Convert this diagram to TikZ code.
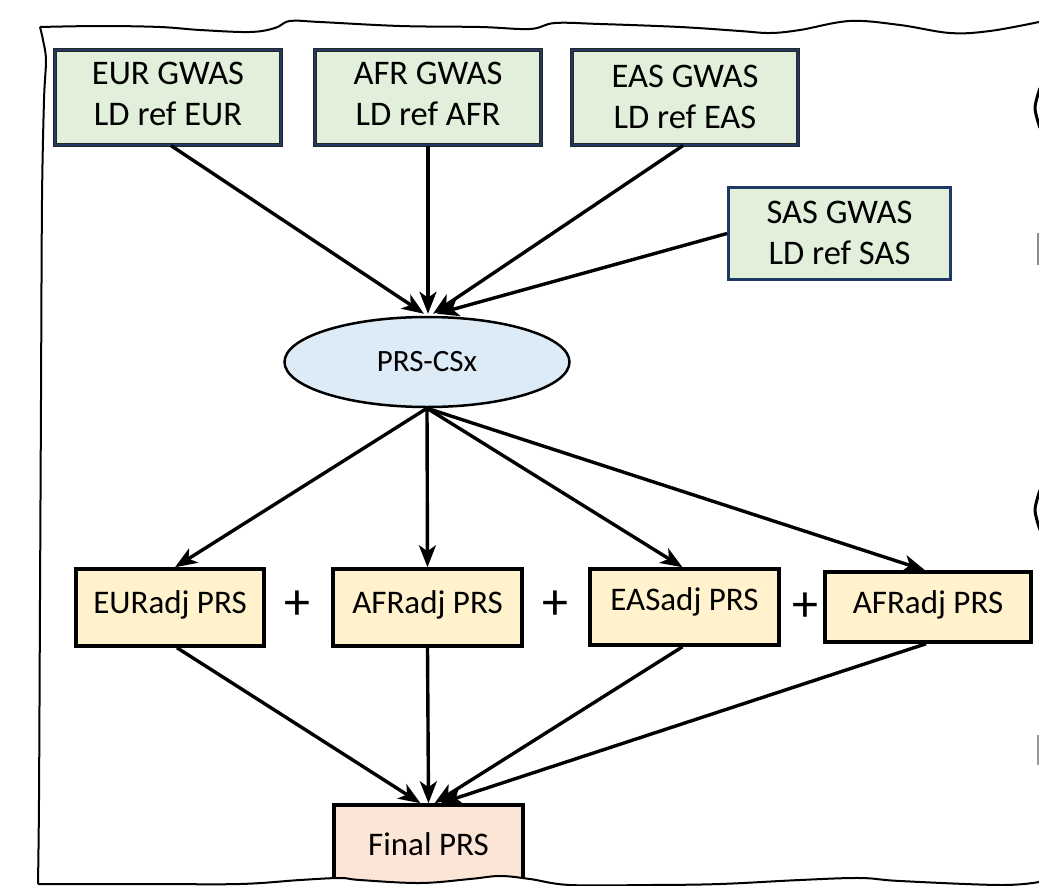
\documentclass[tikz,border=0pt]{standalone}
\usepackage{fontspec}
\setmainfont{Carlito}
\usetikzlibrary{arrows.meta,shapes.geometric,calc}
\definecolor{gfill}{HTML}{E2EFDA}
\definecolor{bfill}{HTML}{DDEBF7}
\definecolor{yfill}{HTML}{FFF2CC}
\definecolor{sfill}{HTML}{FBE5D6}
\definecolor{navy}{HTML}{1F3864}
\begin{document}
\begin{tikzpicture}[x=1pt,y=-1pt,
  txt/.style={font=\fontsize{33}{41}\selectfont, align=center, text=black},
  txtbig/.style={font=\fontsize{34.5}{41}\selectfont, align=center, text=black},
  gwas/.style={rectangle, fill=gfill, draw=black!85, double=navy, double distance=1.8pt, line width=1.2pt, inner sep=0pt},
  gwassas/.style={rectangle, fill=gfill, draw=navy, line width=3pt, inner sep=0pt},
  adj/.style={rectangle, fill=yfill, draw=black, line width=3.5pt, inner sep=0pt},
  fin/.style={rectangle, fill=sfill, draw=black, line width=3.5pt, inner sep=0pt},
  conn/.style={line width=3.4pt, -{Stealth[length=22pt,width=17pt,inset=6pt]}},
  plus/.style={font=\fontsize{52}{52}\selectfont}
]
\useasboundingbox (0,0) rectangle (1039,886);
\fill[white] (0,0) rectangle (1039,886);

% top GWAS boxes
\node[gwas, minimum width=226pt, minimum height=95pt] (eur) at (168,97.5) {};
\node[txtbig] (eurt) at ([yshift=4pt]eur.center) {EUR GWAS\\LD ref EUR};
\node[gwas, minimum width=226pt, minimum height=95pt] (afr) at (428,97.5) {};
\node[txtbig] (afrt) at ([yshift=4pt]afr.center) {AFR GWAS\\LD ref AFR};
\node[gwas, minimum width=226pt, minimum height=95pt] (eas) at (685,97.5) {};
\node[txtbig] (east) at ([yshift=1pt]eas.center) {EAS GWAS\\LD ref EAS};
\node[gwassas, minimum width=222pt, minimum height=92pt] (sas) at (839.5,233.5) {};
\node[txtbig] (sast) at ([yshift=1pt]sas.center) {SAS GWAS\\LD ref SAS};

% PRS-CSx ellipse
\node[ellipse, fill=bfill, draw=black, line width=2.5pt, minimum width=285pt, minimum height=90pt, inner sep=0pt, font=\fontsize{31}{34}\selectfont] (prs) at (427,362) {PRS-CSx};

% adjusted PRS boxes
\node[adj, minimum width=188pt, minimum height=77pt] (eadj) at (170,607.5) {};
\node[txt] (eadjt) at ([yshift=3pt]eadj.center) {EURadj PRS};
\node[adj, minimum width=189pt, minimum height=77pt] (aadj) at (427.5,607.5) {};
\node[txt] (aadjt) at ([yshift=3pt]aadj.center) {AFRadj PRS};
\node[adj, minimum width=189pt, minimum height=76pt] (sadj) at (684.5,607) {};
\node[txt] (sadjt) at ([yshift=5pt]sadj.center) {EASadj PRS};
\node[adj, minimum width=206pt, minimum height=70pt] (a2adj) at (928,607) {};
\node[txt] (a2adjt) at ([yshift=2pt]a2adj.center) {AFRadj PRS};

\node[plus] (p1) at (297,605) {+};
\node[plus] (p2) at (555,605) {+};
\node[plus] (p3) at (805,607) {+};

% final box
\node[fin, minimum width=189pt, minimum height=86pt] (final) at (428.5,848) {};
\node[txt] (finaltxt) at (428.5,844) {Final PRS};

% connectors: GWAS -> PRS-CSx
\draw[conn] ([xshift=3pt]eur.south) -- ([xshift=-3pt,yshift=2pt]prs.north);
\draw[conn] (afr.south) -- ([xshift=1pt,yshift=2pt]prs.north);
\draw[conn] ([xshift=-2pt]eas.south) -- ([xshift=6pt,yshift=2pt]prs.north);
\draw[conn] (sas.west) -- ([xshift=10pt,yshift=2pt]prs.north);

% PRS-CSx -> adjusted
\draw[conn] (prs.south) -- ([xshift=5pt]eadj.north);
\draw[conn] (prs.south) -- (aadj.north);
\draw[conn] (prs.south) -- ([xshift=-2pt]sadj.north);
\draw[conn] (prs.south) -- ([xshift=-3pt]a2adj.north);

% adjusted -> final
\draw[conn] ([xshift=7pt]eadj.south) -- ([xshift=-8pt]final.north);
\draw[conn] (aadj.south) -- (final.north);
\draw[conn] ([xshift=-2pt]sadj.south) -- ([xshift=6pt]final.north);
\draw[conn] ([xshift=-2pt]a2adj.south) -- ([xshift=12pt]final.north);

% wavy frame
\fill[white] plot[smooth, tension=0.6] coordinates {(38,884) (150,884) (240,884) (300,880) (340,878) (360,880) (420,883) (470,879) (500,876) (530,879) (570,885) (650,885) (720,884) (800,880) (860,878) (900,881) (1000,885) (1039,882)} -- (1039,890) -- (38,890) -- cycle;
\draw[line width=2pt, line join=round] plot[smooth, tension=0.6] coordinates {(1039,22) (990,31) (950,33) (900,25) (850,21) (800,30) (770,33) (740,31) (680,27) (600,24) (555,23) (530,29) (480,27) (400,26) (320,22) (290,21) (275,28) (250,32) (200,30) (160,27) (100,26) (40,27)};
\draw[line width=2pt] plot[smooth, tension=0.5] coordinates {(40,27) (43,40) (46,60) (44,100) (42,200) (41,400) (40,600) (39,800) (38,884)};
\draw[line width=2pt] plot[smooth, tension=0.6] coordinates {(38,884) (150,884) (240,884) (300,880) (340,878) (360,880) (420,883) (470,879) (500,876) (530,879) (570,885) (650,885) (720,884) (800,880) (860,878) (900,881) (1000,885) (1039,882)};

% partial marks at right edge
\draw[line width=3pt] plot[smooth] coordinates {(1040,88) (1035,108) (1040,128)};
\draw[line width=1.5pt, black!45] (1038,233) -- (1038,265);
\draw[line width=3pt] plot[smooth] coordinates {(1040,490) (1035,510) (1040,530)};
\draw[line width=1.5pt, black!40] (1038,735) -- (1038,765);
\end{tikzpicture}
\end{document}
